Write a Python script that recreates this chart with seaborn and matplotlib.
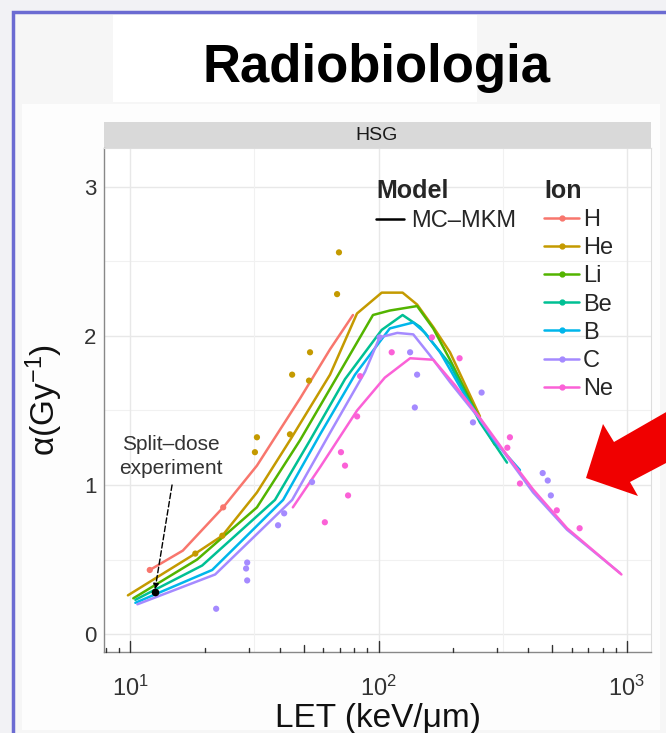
import numpy as np
import pandas as pd
import matplotlib
matplotlib.use("Agg")
import matplotlib.pyplot as plt
import matplotlib.transforms as mtransforms
from matplotlib.patches import Rectangle, Polygon
from matplotlib.lines import Line2D
from matplotlib.ticker import FixedLocator, LogFormatterSciNotation, NullFormatter
import seaborn as sns

# ---------------- data ----------------
ions = ["H", "He", "Li", "Be", "B", "C", "Ne"]
ion_colors = ["#F8766D", "#C49A00", "#53B400", "#00C094", "#00B6EB", "#A58AFF", "#FB61D7"]

# MC-MKM model curves (LET keV/um, alpha Gy^-1)
H_let = [12.0, 16.3, 23.7, 32.4, 48.3, 63.8, 78.9]
H_alpha = [0.43, 0.56, 0.85, 1.13, 1.58, 1.91, 2.14]
He_let = [9.8, 18.3, 23.5, 32.4, 44.0, 63.8, 81.9, 103, 125, 143, 166, 194, 256]
He_alpha = [0.26, 0.54, 0.66, 0.95, 1.30, 1.74, 2.15, 2.29, 2.29, 2.21, 2.06, 1.89, 1.46]
Li_let = [10.3, 18.6, 32.4, 48.3, 70.0, 95.0, 111, 143, 166, 194, 256, 294]
Li_alpha = [0.24, 0.50, 0.85, 1.30, 1.76, 2.14, 2.17, 2.20, 2.05, 1.84, 1.44, 1.27]
Be_let = [10.5, 19.5, 38.3, 53.0, 73.3, 103, 125, 147, 166, 194, 256, 329]
Be_alpha = [0.23, 0.46, 0.90, 1.30, 1.71, 2.04, 2.14, 2.06, 1.95, 1.81, 1.42, 1.15]
B_let = [10.5, 21.4, 41.3, 58.2, 80.4, 111, 138, 154, 177, 223, 294, 371]
B_alpha = [0.21, 0.43, 0.90, 1.34, 1.74, 2.05, 2.09, 2.02, 1.89, 1.60, 1.29, 1.10]
C_let = [10.7, 22.0, 44.9, 63.8, 88.3, 101, 119, 138, 161, 194, 256, 329, 419, 574, 937]
C_alpha = [0.20, 0.40, 0.90, 1.35, 1.76, 1.99, 2.02, 2.01, 1.87, 1.69, 1.44, 1.19, 0.95, 0.70, 0.41]
Ne_let = [45.2, 58.2, 82.0, 106, 134, 166, 203, 256, 329, 419, 574, 950]
Ne_alpha = [0.85, 1.12, 1.50, 1.72, 1.85, 1.84, 1.67, 1.45, 1.20, 0.97, 0.71, 0.40]

# experimental points
H_pts_let = [12.0, 23.7]
H_pts_alpha = [0.43, 0.85]
He_pts_let = [18.3, 23.5, 31.8, 32.4, 44.0, 44.9, 52.5, 53.0, 68.1, 69.3]
He_pts_alpha = [0.54, 0.66, 1.22, 1.32, 1.34, 1.74, 1.70, 1.89, 2.28, 2.56]
C_pts_let = [22.2, 29.3, 29.6, 29.6, 39.4, 41.7, 54.0, 101, 134, 140, 143, 240, 260, 458, 480, 494]
C_pts_alpha = [0.17, 0.44, 0.48, 0.36, 0.73, 0.81, 1.02, 1.99, 1.89, 1.52, 1.74, 1.42, 1.62, 1.08, 1.03, 0.93]
Ne_pts_let = [60.8, 70.6, 73.3, 75.4, 82.0, 84.3, 113, 164, 212, 330, 338, 371, 522, 645]
Ne_pts_alpha = [0.75, 1.22, 1.13, 0.93, 1.46, 1.73, 1.89, 1.99, 1.85, 1.25, 1.32, 1.01, 0.83, 0.71]

split_let = [12.6]
split_alpha = [0.28]

x_ticks = [10, 100, 1000]
y_ticks = [0, 1, 2, 3]

curves = {"H": (H_let, H_alpha), "He": (He_let, He_alpha), "Li": (Li_let, Li_alpha),
          "Be": (Be_let, Be_alpha), "B": (B_let, B_alpha), "C": (C_let, C_alpha),
          "Ne": (Ne_let, Ne_alpha)}
points = {"H": (H_pts_let, H_pts_alpha), "He": (He_pts_let, He_pts_alpha),
          "C": (C_pts_let, C_pts_alpha), "Ne": (Ne_pts_let, Ne_pts_alpha)}

df_lines = pd.concat([pd.DataFrame({"LET": l, "alpha": a, "Ion": k}) for k, (l, a) in curves.items()],
                     ignore_index=True)
df_pts = pd.concat([pd.DataFrame({"LET": l, "alpha": a, "Ion": k}) for k, (l, a) in points.items()],
                   ignore_index=True)

# ---------------- style ----------------
sns.set_style("white")
plt.rcParams["font.family"] = ["Liberation Sans", "DejaVu Sans"]
plt.rcParams["mathtext.fontset"] = "custom"
plt.rcParams["mathtext.rm"] = "Liberation Sans"
plt.rcParams["mathtext.it"] = "Liberation Sans:italic"
plt.rcParams["mathtext.default"] = "regular"

W, H = 666, 733
fig = plt.figure(figsize=(W / 100, H / 100), dpi=100)
fig.patch.set_facecolor("#f2f2f5")


def fx(x):
    return x / W


def fy(y):
    return 1 - y / H


def prect(x0, y0, x1, y1, **kw):
    r = Rectangle((fx(x0), fy(y1)), fx(x1) - fx(x0), fy(y0) - fy(y1), transform=fig.transFigure, **kw)
    fig.add_artist(r)
    return r


# slide frame and backgrounds
prect(13, 12, 690, 760, facecolor="#f6f6f6", edgecolor="#6b6bd2", lw=2.5, zorder=-10)
prect(22, 104, 660, 730, facecolor="#fdfdfd", edgecolor="none", zorder=-9)
prect(113, 15, 477, 102, facecolor="white", edgecolor="none", zorder=-8)
fig.text(fx(376), fy(82), "Radiobiologia", ha="center", va="baseline", fontsize=38,
         fontweight="bold", color="black")

# axes
ax = fig.add_axes([fx(104), fy(652), (651 - 104) / W, (652 - 148) / H])
ax.set_facecolor("white")
ax.set_xscale("log")
xmin, xmax = 7.85, 1250
ax.set_xlim(xmin, xmax)
ax.set_ylim(-0.12, 3.26)

# facet strip
prect(104, 122, 651, 148, facecolor="#d9d9d9", edgecolor="none", zorder=-5)
fig.text(fx(377), fy(135), "HSG", ha="center", va="center", fontsize=14, color="#1a1a1a")

# grid
for v in y_ticks:
    ax.axhline(v, color="#e8e8e8", lw=1.0, zorder=0)
for v in [0.5, 1.5, 2.5]:
    ax.axhline(v, color="#f1f1f1", lw=0.8, zorder=0)
for v in x_ticks:
    ax.axvline(v, color="#e8e8e8", lw=1.0, zorder=0)
for v in [10 ** 1.5, 10 ** 2.5]:
    ax.axvline(v, color="#f1f1f1", lw=0.8, zorder=0)

# model curves and data points
sns.lineplot(data=df_lines, x="LET", y="alpha", hue="Ion", hue_order=ions, palette=ion_colors,
             estimator=None, sort=False, lw=1.8, legend=False, ax=ax, zorder=3)
sns.scatterplot(data=df_pts, x="LET", y="alpha", hue="Ion", hue_order=ions, palette=ion_colors,
                s=20, linewidth=0, legend=False, ax=ax, zorder=4)
ax.scatter(split_let, split_alpha, s=20, color="black", zorder=5)

# split-dose annotation
ax.annotate("", xy=(split_let[0], split_alpha[0] + 0.02), xytext=(14.75, 1.0),
            arrowprops=dict(arrowstyle="-|>", linestyle=(0, (4, 2)), color="black", lw=1.0,
                            mutation_scale=8, shrinkA=0, shrinkB=0), zorder=6)
ax.text(14.6, 1.19, "Split\u2013dose\nexperiment", ha="center", va="center", fontsize=15,
        color="#333333", linespacing=1.35, zorder=6)

# ticks
ax.xaxis.set_major_locator(FixedLocator(x_ticks))
ax.xaxis.set_major_formatter(LogFormatterSciNotation())
ax.xaxis.set_minor_locator(FixedLocator([]))
ax.xaxis.set_minor_formatter(NullFormatter())
ax.yaxis.set_major_locator(FixedLocator(y_ticks))
ax.set_yticklabels([str(v) for v in y_ticks])
ax.tick_params(axis="both", which="major", direction="out", length=3.5, width=1,
               color="#333333", labelcolor="#333333")
ax.tick_params(axis="x", labelsize=17, pad=13.5)
ax.tick_params(axis="y", labelsize=16, pad=2)

# annotation_logticks-like marks along bottom
trans = mtransforms.blended_transform_factory(ax.transData, ax.transAxes)
for e in range(0, 4):
    for m in range(1, 10):
        v = m * 10 ** e
        if xmin <= v <= xmax:
            h = 0.022 if m == 1 else (0.014 if m == 5 else 0.008)
            ax.plot([v, v], [0, h], transform=trans, color="#333333", lw=1.0, zorder=5,
                    clip_on=False)

for s in ["left", "bottom"]:
    ax.spines[s].set_color("#888888")
    ax.spines[s].set_linewidth(1.0)
for s in ["top", "right"]:
    ax.spines[s].set_color("#dddddd")
    ax.spines[s].set_linewidth(0.8)

ax.set_xlabel("LET (keV/\u03bcm)", fontsize=24, color="#111111")
ax.set_ylabel("\u03b1(Gy$^{-1}$)", fontsize=24, color="#111111")
ax.xaxis.set_label_coords((378 - 104) / 547, (652 - 718) / 504)
ax.xaxis.label.set_va("center")
ax.yaxis.set_label_coords((44 - 104) / 547, 0.5)
ax.yaxis.label.set_va("center")

# legends
model_handles = [Line2D([], [], color="black", lw=1.8)]
leg1 = ax.legend(model_handles, ["MC\u2013MKM"], title="Model", loc="upper left",
                 bbox_to_anchor=(fx(376), fy(179)), bbox_transform=fig.transFigure,
                 frameon=False, fontsize=17, title_fontproperties={"weight": "bold", "size": 18},
                 alignment="left", borderpad=0, handlelength=1.2, handletextpad=0.3,
                 borderaxespad=0, labelspacing=0.3)
ax.add_artist(leg1)
ion_handles = [Line2D([], [], color=c, lw=1.8, marker="o", markersize=3.5) for c in ion_colors]
leg2 = ax.legend(ion_handles, ions, title="Ion", loc="upper left",
                 bbox_to_anchor=(fx(544), fy(179)), bbox_transform=fig.transFigure,
                 frameon=False, fontsize=17, title_fontproperties={"weight": "bold", "size": 18},
                 alignment="left", borderpad=0, handlelength=1.5, handletextpad=0.15,
                 labelspacing=0.26, borderaxespad=0)

# red arrow (slide annotation)
arrow_px = [(586, 478), (603, 424), (614, 442), (668, 411), (668, 462), (630, 482), (638, 496)]
fig.add_artist(Polygon([(fx(x), fy(y)) for x, y in arrow_px], closed=True, transform=fig.transFigure,
                       facecolor="#f00000", edgecolor="none", zorder=10))

fig.savefig("out.png", dpi=100, facecolor=fig.get_facecolor())
